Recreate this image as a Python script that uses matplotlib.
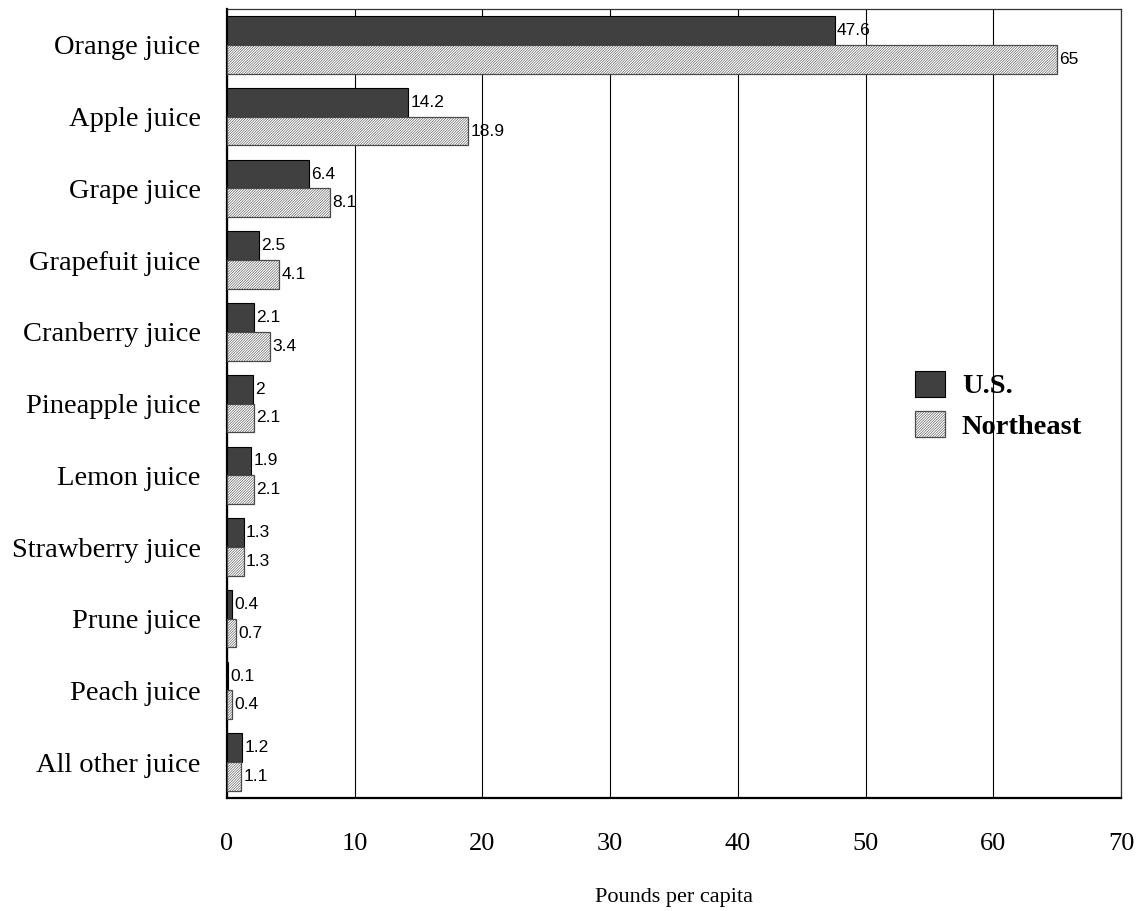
import matplotlib
matplotlib.use('Agg')
import matplotlib.pyplot as plt
import numpy as np

# data
juices = ['Orange juice', 'Apple juice', 'Grape juice', 'Grapefuit juice',
          'Cranberry juice', 'Pineapple juice', 'Lemon juice',
          'Strawberry juice', 'Prune juice', 'Peach juice', 'All other juice']
us = [47.6, 14.2, 6.4, 2.5, 2.1, 2, 1.9, 1.3, 0.4, 0.1, 1.2]
northeast = [65, 18.9, 8.1, 4.1, 3.4, 2.1, 2.1, 1.3, 0.7, 0.4, 1.1]
series_names = ['U.S.', 'Northeast']
x_ticks = [0, 10, 20, 30, 40, 50, 60, 70]

serif = 'Liberation Serif'
sans = 'Liberation Sans'

plt.rcParams['hatch.linewidth'] = 0.4

fig = plt.figure(figsize=(11.45, 9.11), dpi=100)
ax = fig.add_axes([0.1983, 0.124, 0.7807, 0.866])

y = np.arange(len(juices))
h = 0.4

b_us = ax.barh(y - h / 2, us, height=h, color='#404040', edgecolor='black',
               linewidth=0.8, label=series_names[0], zorder=3)
b_ne = ax.barh(y + h / 2, northeast, height=h, color='white', edgecolor='#4a4a4a',
               hatch='/' * 13, linewidth=0.9, label=series_names[1], zorder=3)

for bars, vals in ((b_us, us), (b_ne, northeast)):
  ax.bar_label(bars, labels=[f'{v:g}' for v in vals], padding=1.5,
               fontsize=12.5, family=sans, zorder=4)

ax.set_xlim(0, 70)
ax.set_ylim(len(juices) - 0.5, -0.5)
ax.set_xticks(x_ticks)
ax.set_xticklabels([str(t) for t in x_ticks], family=serif, fontsize=19)
ax.set_yticks(y)
ax.set_yticklabels(juices, family=serif, fontsize=20.5)
ax.tick_params(axis='both', length=0)
ax.tick_params(axis='x', pad=25)
ax.tick_params(axis='y', pad=19)

ax.xaxis.grid(True, color='black', linewidth=0.8)
ax.set_axisbelow(True)

ax.spines['left'].set_linewidth(1.6)
ax.spines['bottom'].set_linewidth(1.6)
ax.spines['top'].set_linewidth(0.9)
ax.spines['right'].set_linewidth(0.9)
ax.spines['top'].set_color('#333333')
ax.spines['right'].set_color('#333333')

ax.set_xlabel('Pounds per capita', family=serif, fontsize=16, labelpad=24)

leg = ax.legend(loc='center left', bbox_to_anchor=(0.7535, 0.498), frameon=False,
                prop={'family': serif, 'weight': 'bold', 'size': 20.5},
                borderpad=0, handlelength=1.05, handleheight=1.05,
                handletextpad=0.6, labelspacing=0.4)

fig.savefig('out.png', dpi=100)
